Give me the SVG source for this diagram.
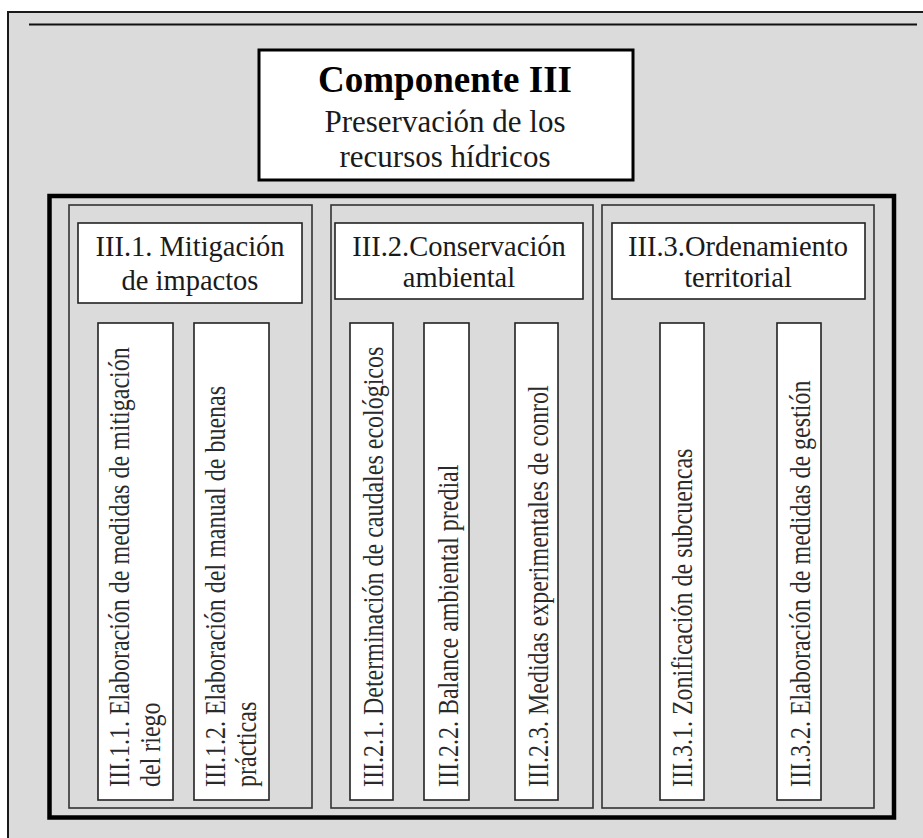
<svg xmlns="http://www.w3.org/2000/svg" width="923" height="838" viewBox="0 0 923 838">
  <style>
    .page { fill: #dbdbdb; stroke: #1a1a1a; stroke-width: 2; }
    .rule { stroke: #111; stroke-width: 2; }
    .frame { fill: none; stroke: #000; stroke-width: 4.5; }
    .col { fill: none; stroke: #333; stroke-width: 1.6; }
    .box { fill: #fff; stroke: #222; stroke-width: 1.6; }
    .title-box { fill: #fff; stroke: #000; stroke-width: 3; }
    text { font-family: "Liberation Serif", "Times New Roman", serif; fill: #1a1a1a; }
    .title { font-size: 37px; font-weight: bold; fill: #000; text-anchor: middle; }
    .subtitle { font-size: 31px; text-anchor: middle; }
    .head { font-size: 28.5px; text-anchor: middle; }
    .vert { font-size: 24px; fill: #2a2a2a; }
  </style>

  <!-- page background and top rule -->
  <rect class="page" x="8" y="12" width="930" height="840"/>
  <line class="rule" x1="29" y1="24.5" x2="917" y2="24.5"/>

  <!-- main title -->
  <g id="componente-III">
    <rect class="title-box" x="259" y="50" width="374" height="130"/>
    <text class="title" x="445" y="92">Componente III</text>
    <text class="subtitle" x="445" y="132">Preservación de los</text>
    <text class="subtitle" x="445" y="167">recursos hídricos</text>
  </g>

  <!-- enclosing frame of the three lines of action -->
  <rect class="frame" x="49.5" y="196" width="844.5" height="621.5"/>

  <!-- III.1 -->
  <g id="III-1">
    <rect class="col" x="69" y="205" width="243" height="603"/>
    <rect class="box" x="78" y="223" width="224" height="80"/>
    <text class="head" x="190" y="256">III.1. Mitigación</text>
    <text class="head" x="190" y="290">de impactos</text>
  </g>
  <g id="III-1-1">
    <rect class="box" x="98" y="323" width="75" height="477"/>
    <text class="vert" transform="translate(129,787) rotate(-90) scale(1,1.25)">III.1.1. Elaboración de medidas de mitigación</text>
    <text class="vert" transform="translate(160,787) rotate(-90) scale(1,1.25)">del riego</text>
  </g>
  <g id="III-1-2">
    <rect class="box" x="194" y="323" width="75" height="477"/>
    <text class="vert" transform="translate(225,787) rotate(-90) scale(1,1.25)">III.1.2. Elaboración del manual de buenas</text>
    <text class="vert" transform="translate(256,787) rotate(-90) scale(1,1.25)">prácticas</text>
  </g>

  <!-- III.2 -->
  <g id="III-2">
    <rect class="col" x="331" y="205" width="262" height="603"/>
    <rect class="box" x="335" y="223" width="248" height="76"/>
    <text class="head" x="459" y="256">III.2.Conservación</text>
    <text class="head" x="459" y="287">ambiental</text>
  </g>
  <g id="III-2-1">
    <rect class="box" x="350" y="323" width="43" height="477"/>
    <text class="vert" transform="translate(383,787) rotate(-90) scale(1,1.25)">III.2.1. Determinación de caudales ecológicos</text>
  </g>
  <g id="III-2-2">
    <rect class="box" x="424" y="323" width="45" height="477"/>
    <text class="vert" transform="translate(458,787) rotate(-90) scale(1,1.25)">III.2.2. Balance ambiental predial</text>
  </g>
  <g id="III-2-3">
    <rect class="box" x="515" y="323" width="43" height="477"/>
    <text class="vert" transform="translate(548,787) rotate(-90) scale(1,1.25)">III.2.3. Medidas experimentales de conrol</text>
  </g>

  <!-- III.3 -->
  <g id="III-3">
    <rect class="col" x="602" y="205" width="272" height="603"/>
    <rect class="box" x="612" y="223" width="253" height="76"/>
    <text class="head" x="738" y="256">III.3.Ordenamiento</text>
    <text class="head" x="738" y="287">territorial</text>
  </g>
  <g id="III-3-1">
    <rect class="box" x="660" y="323" width="44" height="477"/>
    <text class="vert" transform="translate(692,787) rotate(-90) scale(1,1.25)">III.3.1. Zonificación de subcuencas</text>
  </g>
  <g id="III-3-2">
    <rect class="box" x="777" y="323" width="44" height="477"/>
    <text class="vert" transform="translate(810,787) rotate(-90) scale(1,1.25)">III.3.2. Elaboración de medidas de gestión</text>
  </g>

  <!-- no connectors in this chart -->
  <g id="connectors"/>
</svg>
